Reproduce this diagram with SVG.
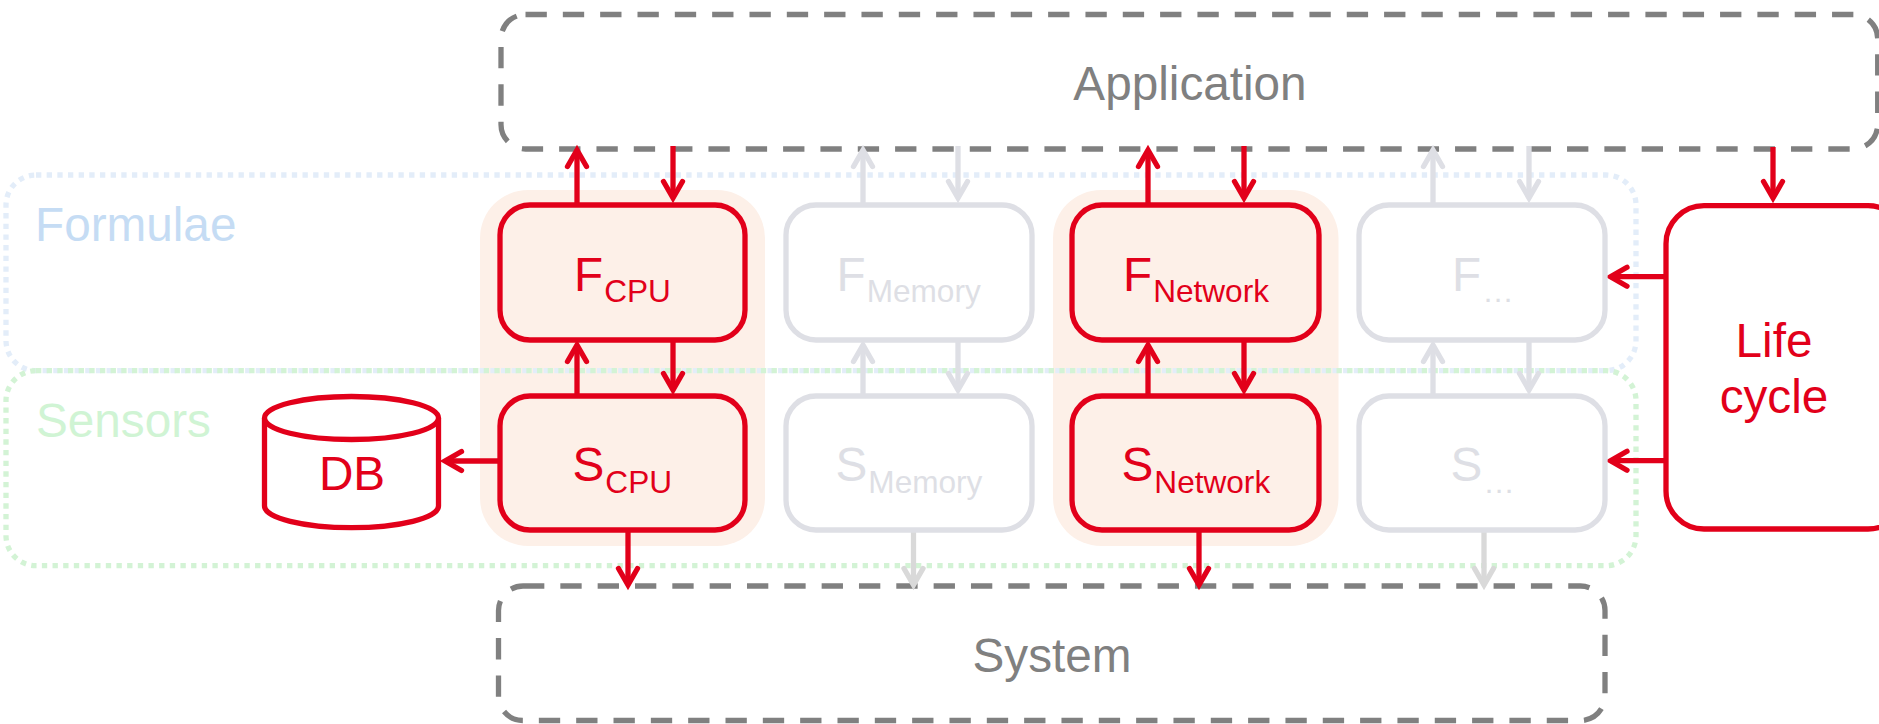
<svg xmlns="http://www.w3.org/2000/svg" width="1879" height="724" viewBox="0 0 1879 724">
<style>
text{font-family:"Liberation Sans",Arial,sans-serif;font-size:47.7px}
.sub{font-size:31.6px}
.red{fill:#e2001a}.dim{fill:#dedfe5}.mid{fill:#808080}
.m{text-anchor:middle}
.nr{fill:#fdf0e8;stroke:#e2001a;stroke-width:5.3}
.ng{fill:none;stroke:#dedfe5;stroke-width:5.3}
.zone{fill:none;stroke-width:5.3;stroke-dasharray:5.33 5.33}
.layer{fill:none;stroke:#808080;stroke-width:5.3;stroke-dasharray:21.33 16}
.c{fill:none;stroke-width:5.3}
.cr{stroke:#e2001a;marker-end:url(#ar)}
.cg{stroke:#dedfe5;marker-end:url(#ag)}
.cs{stroke:#d9d9d9;marker-end:url(#as)}
</style>
<defs>
<marker id="ar" markerUnits="userSpaceOnUse" markerWidth="60" markerHeight="60" refX="0" refY="0" viewBox="-30 -30 60 60" orient="auto" overflow="visible"><path d="M-16.500,-9.500L0,0L-16.500,9.500" fill="none" stroke="#e2001a" stroke-width="5.3" stroke-linecap="round" stroke-miterlimit="10"/></marker>
<marker id="ag" markerUnits="userSpaceOnUse" markerWidth="60" markerHeight="60" refX="0" refY="0" viewBox="-30 -30 60 60" orient="auto" overflow="visible"><path d="M-16.500,-9.500L0,0L-16.500,9.500" fill="none" stroke="#dedfe5" stroke-width="5.3" stroke-linecap="round" stroke-miterlimit="10"/></marker>
<marker id="as" markerUnits="userSpaceOnUse" markerWidth="60" markerHeight="60" refX="0" refY="0" viewBox="-30 -30 60 60" orient="auto" overflow="visible"><path d="M-16.500,-9.500L0,0L-16.500,9.500" fill="none" stroke="#d9d9d9" stroke-width="5.3" stroke-linecap="round" stroke-miterlimit="10"/></marker>
</defs>
<g id="highlight-cpu"><rect x="480" y="190" width="285" height="356" rx="48" fill="#fdf0e8"/></g>
<g id="highlight-network"><rect x="1053" y="190" width="285.500" height="356" rx="48" fill="#fdf0e8"/></g>
<g id="zone-formulae"><rect class="zone" x="6" y="175" width="1630" height="195.700" rx="30" stroke="#e3edf9"/><text x="35" y="241" fill="#c5dcf4">Formulae</text></g>
<g id="zone-sensors"><rect class="zone" x="6" y="370.700" width="1630" height="195" rx="30" stroke="#d3f3d5"/><text x="36" y="437" fill="#d0f4d4">Sensors</text></g>
<g id="application"><rect class="layer" x="501" y="14.500" width="1376.700" height="134.500" rx="24.500"/><text class="mid m" x="1190" y="100">Application</text></g>
<g id="system"><rect class="layer" x="498.500" y="586" width="1106.500" height="134.500" rx="24.500"/><text class="mid m" x="1052" y="672">System</text></g>
<g id="connectors">
<path class="c cg" d="M863,205V150"/><path class="c cg" d="M958,146V198"/>
<path class="c cg" d="M863,396V345"/><path class="c cg" d="M958,340V390"/>
<path class="c cg" d="M1433,205V150"/><path class="c cg" d="M1529,146V198"/>
<path class="c cg" d="M1433,396V345"/><path class="c cg" d="M1529,340V390"/>
<path class="c cs" d="M913.500,530V585"/><path class="c cs" d="M1484,530V585"/>
<path class="c cr" d="M577,205V150"/><path class="c cr" d="M673,146V198"/>
<path class="c cr" d="M577,396V345"/><path class="c cr" d="M673,340V390"/>
<path class="c cr" d="M1148,205V150"/><path class="c cr" d="M1244,146V198"/>
<path class="c cr" d="M1148,396V345"/><path class="c cr" d="M1244,340V390"/>
<path class="c cr" d="M628,530V585"/><path class="c cr" d="M1199,530V585"/>
<path class="c cr" d="M498,461H445"/>
<path class="c cr" d="M1773,147V198"/>
<path class="c cr" d="M1666,276.700H1610.500"/><path class="c cr" d="M1666,460.700H1610.500"/>
</g>
<g id="f-cpu"><rect class="nr" x="500" y="205" width="245" height="135" rx="30"/><text class="red" x="574" y="290.500">F<tspan class="sub" dy="11.500" dx="1">CPU</tspan></text></g>
<g id="s-cpu"><rect class="nr" x="500" y="396" width="245" height="134" rx="30"/><text class="red" x="572.500" y="481">S<tspan class="sub" dy="11.500" dx="1">CPU</tspan></text></g>
<g id="f-memory"><rect class="ng" x="786" y="205" width="246" height="135" rx="30"/><text class="dim" x="836.500" y="290.500">F<tspan class="sub" dy="11.500" dx="1">Memory</tspan></text></g>
<g id="s-memory"><rect class="ng" x="786" y="396" width="246" height="134" rx="30"/><text class="dim" x="835.500" y="481">S<tspan class="sub" dy="11.500" dx="1">Memory</tspan></text></g>
<g id="f-network"><rect class="nr" x="1072" y="205" width="247" height="135" rx="30"/><text class="red" x="1123" y="290.500">F<tspan class="sub" dy="11.500" dx="1">Network</tspan></text></g>
<g id="s-network"><rect class="nr" x="1072" y="396" width="247" height="134" rx="30"/><text class="red" x="1121.500" y="481">S<tspan class="sub" dy="11.500" dx="1">Network</tspan></text></g>
<g id="f-more"><rect class="ng" x="1359" y="205" width="246" height="135" rx="30"/><text class="dim" x="1452" y="290.500">F<tspan class="sub" dy="11.500" dx="1">…</tspan></text></g>
<g id="s-more"><rect class="ng" x="1359" y="396" width="246" height="134" rx="30"/><text class="dim" x="1450.500" y="481">S<tspan class="sub" dy="11.500" dx="1">…</tspan></text></g>
<g id="db"><path d="M264.500,418V506C264.500,518 304,527.700 351.500,527.700S438.500,518 438.500,506V418" fill="#fff" stroke="#e2001a" stroke-width="5.3"/><ellipse cx="351.500" cy="418" rx="87" ry="21.500" fill="#fff" stroke="#e2001a" stroke-width="5.3"/><text class="red m" x="352" y="490">DB</text></g>
<g id="lifecycle"><rect x="1666" y="205.700" width="240" height="323.300" rx="38" fill="#fff" stroke="#e2001a" stroke-width="5.3"/><text class="red m" x="1774" y="357">Life</text><text class="red m" x="1774" y="413">cycle</text></g>
</svg>
